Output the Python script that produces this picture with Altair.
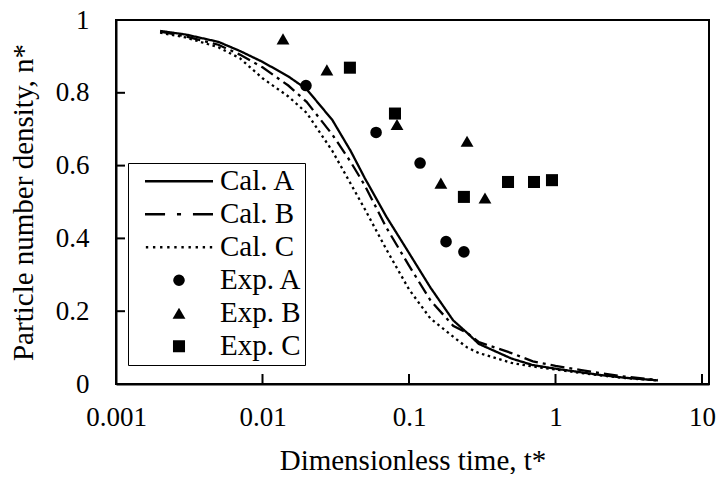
import altair as alt
import pandas as pd

# Calculated curves (dimensionless time t*, particle number density n*)
cal_t = [0.002, 0.003, 0.005, 0.007, 0.01, 0.015, 0.02, 0.03, 0.04, 0.05, 0.07,
         0.1, 0.14, 0.2, 0.25, 0.3, 0.5, 0.7, 1.0, 1.5, 2.0, 3.0, 5.0]
cal_a = [0.970, 0.960, 0.940, 0.915, 0.885, 0.845, 0.810, 0.725, 0.640, 0.565, 0.460,
         0.360, 0.265, 0.175, 0.140, 0.110, 0.070, 0.052, 0.042, 0.032, 0.025, 0.017, 0.010]
cal_b = [0.968, 0.955, 0.932, 0.905, 0.870, 0.820, 0.775, 0.685, 0.610, 0.545, 0.430,
         0.325, 0.230, 0.160, 0.140, 0.115, 0.085, 0.062, 0.050, 0.038, 0.030, 0.020, 0.011]
cal_c = [0.965, 0.952, 0.925, 0.895, 0.840, 0.790, 0.745, 0.640, 0.550, 0.480, 0.370,
         0.260, 0.180, 0.130, 0.100, 0.085, 0.058, 0.048, 0.040, 0.030, 0.024, 0.016, 0.010]

# Experimental points
exp_a_t = [0.0198, 0.0596, 0.119, 0.179, 0.237]
exp_a_n = [0.820, 0.691, 0.607, 0.391, 0.363]
exp_b_t = [0.0138, 0.0275, 0.0828, 0.165, 0.249, 0.330]
exp_b_n = [0.948, 0.863, 0.713, 0.552, 0.667, 0.511]
exp_c_t = [0.0395, 0.0802, 0.237, 0.474, 0.713, 0.946]
exp_c_n = [0.869, 0.743, 0.514, 0.555, 0.555, 0.560]

series_names = ["Cal. A", "Cal. B", "Cal. C", "Exp. A", "Exp. B", "Exp. C"]
x_ticks = [0.001, 0.01, 0.1, 1, 10]
y_ticks = [0, 0.2, 0.4, 0.6, 0.8, 1.0]

cal_df = pd.concat([
    pd.DataFrame({"t": cal_t, "n": cal_a, "series": "Cal. A"}),
    pd.DataFrame({"t": cal_t, "n": cal_b, "series": "Cal. B"}),
    pd.DataFrame({"t": cal_t, "n": cal_c, "series": "Cal. C"}),
])
exp_df = pd.concat([
    pd.DataFrame({"t": exp_a_t, "n": exp_a_n, "series": "Exp. A"}),
    pd.DataFrame({"t": exp_b_t, "n": exp_b_n, "series": "Exp. B"}),
    pd.DataFrame({"t": exp_c_t, "n": exp_c_n, "series": "Exp. C"}),
])
xt_df = pd.DataFrame({"t": x_ticks})
yt_df = pd.DataFrame({"n": y_ticks})

FONT = "Liberation Serif"

# legend glyphs for the line series (filled paths in the unit symbol box)
h = 0.04
path_solid = f"M-1,-{h}H1V{h}H-1Z"
path_dashdot = (f"M-1,-{h}H-0.41V{h}H-1Z "
                f"M-0.06,-{h}H0.06V{h}H-0.06Z "
                f"M0.41,-{h}H1V{h}H0.41Z")
dot_paths = []
for i in range(10):
    c = -0.94 + i * 0.209
    dot_paths.append(f"M{c - 0.035:.3f},-{h}H{c + 0.035:.3f}V{h}H{c - 0.035:.3f}Z")
path_dotted = " ".join(dot_paths)

xscale = alt.Scale(type="log", domain=[0.001, 11.16], nice=False)
yscale = alt.Scale(domain=[0, 1], nice=False)

xenc = alt.X("t:Q", scale=xscale,
             axis=alt.Axis(values=x_ticks, format="~g", title="Dimensionless time, t*",
                           ticks=False, labelFlush=False, labelPadding=20, titlePadding=16,
                           grid=False))
yenc = alt.Y("n:Q", scale=yscale,
             axis=alt.Axis(values=y_ticks, format="~g", title="Particle number density, n*",
                           ticks=False, labelFlush=False, labelPadding=27, titlePadding=17,
                           grid=False))

legend = alt.Legend(title=None, orient="none", legendX=12, legendY=143,
                    strokeColor="black", fillColor="white", padding=2,
                    clipHeight=32.5, rowPadding=0, symbolOffset=15, labelOffset=7,
                    labelFont=FONT, labelFontSize=29, labelColor="black",
                    labelExpr="datum.label + '\u00a0\u00a0'",
                    symbolStrokeWidth=0, symbolFillColor="black")

dash_scale = alt.Scale(domain=["Cal. A", "Cal. B", "Cal. C"],
                       range=[[1, 0], [14, 5, 3, 5], [2.5, 3.5]])
shape_scale = alt.Scale(domain=series_names,
                        range=[path_solid, path_dashdot, path_dotted,
                               "circle", "triangle-up", "square"])
size_scale = alt.Scale(type="ordinal", domain=series_names,
                       range=[4624, 4624, 4624, 135, 165, 145])

lines = alt.Chart(cal_df).mark_line(color="black", strokeWidth=2.3).encode(
    x=xenc, y=yenc,
    strokeDash=alt.StrokeDash("series:N", scale=dash_scale, legend=None),
)

points = alt.Chart(exp_df).mark_point(
    filled=True, fill="black", opacity=1
).encode(
    x=alt.X("t:Q", scale=xscale),
    y=alt.Y("n:Q", scale=yscale),
    shape=alt.Shape("series:N", scale=shape_scale, legend=legend),
    size=alt.Size("series:N", scale=size_scale, legend=legend),
)

xticks_layer = alt.Chart(xt_df).mark_rule(color="black", strokeWidth=2).encode(
    x=alt.X("t:Q", scale=xscale), y=alt.value(364), y2=alt.value(354)
)
yticks_layer = alt.Chart(yt_df).mark_rule(color="black", strokeWidth=2).encode(
    y=alt.Y("n:Q", scale=yscale), x=alt.value(0), x2=alt.value(9)
)

chart = alt.layer(lines, points, xticks_layer, yticks_layer).properties(
    width=593, height=364,
    background="white",
    autosize=alt.AutoSizeParams(type="none"),
    padding={"left": 108, "top": 12, "right": 10, "bottom": 90},
).configure_view(stroke="black", strokeWidth=2).configure_axis(
    domainColor="black", domainWidth=2,
    labelFont=FONT, labelFontSize=27, labelColor="black",
    titleFont=FONT, titleFontSize=29, titleColor="black", titleFontWeight="normal",
)

chart.save("out.html", embed_options={"renderer": "svg", "actions": False})
